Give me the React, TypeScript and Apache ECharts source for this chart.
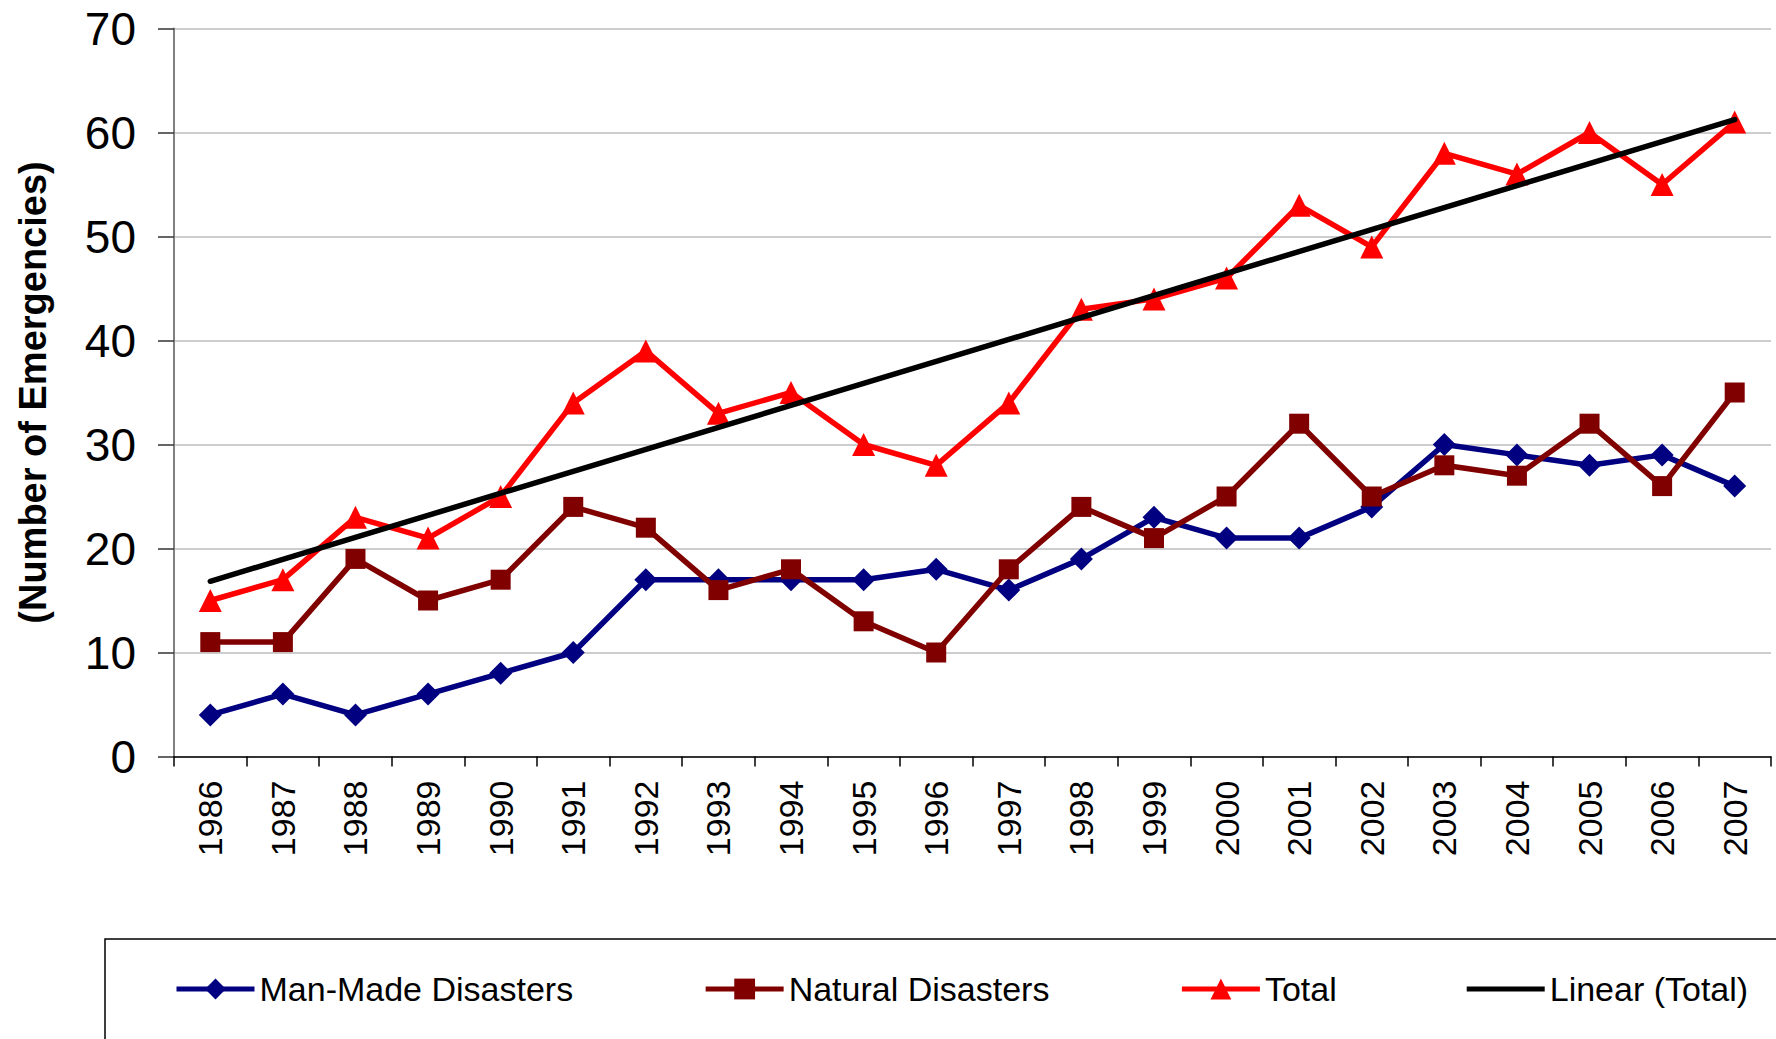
import React, { useEffect, useRef } from "react";
import * as echarts from "echarts";

const years = ["1986","1987","1988","1989","1990","1991","1992","1993","1994","1995","1996","1997","1998","1999","2000","2001","2002","2003","2004","2005","2006","2007"];
const manMade = [4, 6, 4, 6, 8, 10, 17, 17, 17, 17, 18, 16, 19, 23, 21, 21, 24, 30, 29, 28, 29, 26];
const natural = [11, 11, 19, 15, 17, 24, 22, 16, 18, 13, 10, 18, 24, 21, 25, 32, 25, 28, 27, 32, 26, 35];
const total = [15, 17, 23, 21, 25, 34, 39, 33, 35, 30, 28, 34, 43, 44, 46, 53, 49, 58, 56, 60, 55, 61];
const trendStart = 16.85;
const trendEnd = 61.24;
const yTicks = { min: 0, max: 70, interval: 10 };

const FONT = "Liberation Sans, Arial, sans-serif";

export default function App() {
  const ref = useRef<HTMLDivElement>(null);
  useEffect(() => {
    document.body.style.margin = "0";
    if (!ref.current) return;
    const chart = echarts.init(ref.current, undefined, { renderer: "svg" });
    chart.setOption({
      animation: false,
      backgroundColor: "#ffffff",
      textStyle: { fontFamily: FONT },
      grid: { left: 174, right: 5, top: 28.5, bottom: 282.5, containLabel: false },
      legend: {
        left: 174,
        top: 972,
        padding: 0,
        itemWidth: 78,
        itemHeight: 26,
        itemGap: 130,
        lineStyle: { width: 5 },
        textStyle: { fontSize: 34, color: "#000", fontFamily: FONT },
        data: [
          { name: "Man-Made Disasters" },
          { name: "Natural Disasters" },
          { name: "Total" },
          { name: "Linear (Total)", icon: "path://M0 0 H78 V5 H0 Z", itemStyle: { color: "#000" } },
        ],
      },
      graphic: [
        {
          type: "rect",
          z: -1,
          shape: { x: 105, y: 939, width: 1700, height: 200 },
          style: { fill: "none", stroke: "#000", lineWidth: 1.5 },
        },
      ],
      xAxis: {
        type: "category",
        data: years,
        boundaryGap: true,
        axisLine: { show: true, lineStyle: { color: "#000", width: 1.5 } },
        axisTick: { show: true, length: 10, lineStyle: { color: "#000", width: 1.5 }, interval: 0 },
        axisLabel: { rotate: 90, fontSize: 34, color: "#000", margin: 24, interval: 0, fontFamily: FONT },
        splitLine: { show: false },
      },
      yAxis: {
        type: "value",
        min: yTicks.min,
        max: yTicks.max,
        interval: yTicks.interval,
        name: "(Number of Emergencies)",
        nameLocation: "middle",
        nameGap: 122,
        nameTextStyle: { fontSize: 38, fontWeight: "bold", color: "#000", fontFamily: FONT },
        axisLine: { show: true, lineStyle: { color: "#808080", width: 2 } },
        axisTick: { show: true, length: 16, lineStyle: { color: "#333", width: 1.5 } },
        axisLabel: { fontSize: 46, color: "#000", margin: 38, fontFamily: FONT },
        splitLine: { show: true, lineStyle: { color: "#BDBDBD", width: 1.5 } },
      },
      series: [
        {
          name: "Man-Made Disasters",
          type: "line",
          data: manMade,
          symbol: "diamond",
          symbolSize: 23,
          lineStyle: { color: "#000080", width: 5.5 },
          itemStyle: { color: "#000080" },
          z: 3,
        },
        {
          name: "Natural Disasters",
          type: "line",
          data: natural,
          symbol: "rect",
          symbolSize: 20,
          lineStyle: { color: "#800000", width: 5.5 },
          itemStyle: { color: "#800000" },
          z: 4,
        },
        {
          name: "Total",
          type: "line",
          data: total,
          symbol: "triangle",
          symbolSize: 23,
          lineStyle: { color: "#FF0000", width: 5.5 },
          itemStyle: { color: "#FF0000" },
          z: 5,
        },
        {
          name: "Linear (Total)",
          type: "line",
          data: [[0, trendStart], [years.length - 1, trendEnd]],
          symbol: "none",
          showSymbol: false,
          lineStyle: { color: "#000000", width: 5.5, cap: "round" },
          itemStyle: { color: "#000000" },
          z: 6,
        },
      ],
    });
    return () => chart.dispose();
  }, []);
  return (
    <div
      ref={ref}
      style={{ position: "absolute", left: 0, top: 0, width: 1776, height: 1039 }}
    />
  );
}
